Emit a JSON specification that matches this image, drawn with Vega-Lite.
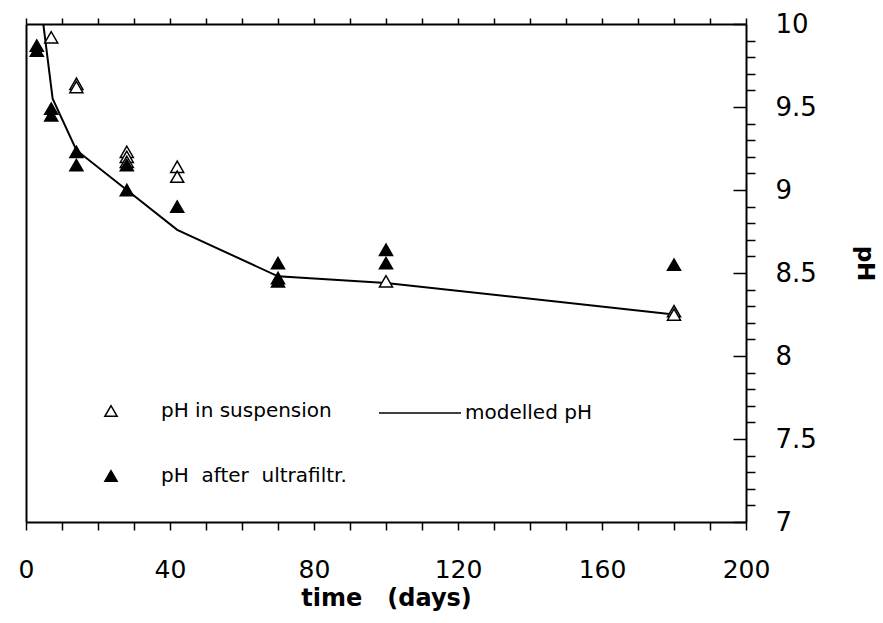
{
  "$schema": "https://vega.github.io/schema/vega-lite/v6.json",
  "autosize": "none",
  "width": 720,
  "height": 498,
  "padding": {"left": 26, "top": 24, "right": 137, "bottom": 101},
  "background": "white",
  "config": {
    "font": "DejaVu Sans",
    "view": {"stroke": null},
    "axis": {"domainColor": "black", "domainWidth": 2, "tickColor": "black", "tickWidth": 1.5, "labelColor": "black", "titleColor": "black", "grid": false, "labelFlush": false, "labelOverlap": false}
  },
  "datasets": {
    "model": [
      {"day": 4.8, "ph": 10.0},
      {"day": 7.4, "ph": 9.55},
      {"day": 14, "ph": 9.24},
      {"day": 28, "ph": 9.0},
      {"day": 42, "ph": 8.76},
      {"day": 70, "ph": 8.48},
      {"day": 100, "ph": 8.44},
      {"day": 180, "ph": 8.25}
    ],
    "obs": [
      {"day": 7, "ph": 9.92, "series": "pH in suspension"},
      {"day": 14, "ph": 9.64, "series": "pH in suspension"},
      {"day": 14, "ph": 9.62, "series": "pH in suspension"},
      {"day": 28, "ph": 9.23, "series": "pH in suspension"},
      {"day": 28, "ph": 9.2, "series": "pH in suspension"},
      {"day": 28, "ph": 9.17, "series": "pH in suspension"},
      {"day": 42, "ph": 9.14, "series": "pH in suspension"},
      {"day": 42, "ph": 9.08, "series": "pH in suspension"},
      {"day": 100, "ph": 8.45, "series": "pH in suspension"},
      {"day": 180, "ph": 8.27, "series": "pH in suspension"},
      {"day": 180, "ph": 8.25, "series": "pH in suspension"},
      {"day": 3, "ph": 9.87, "series": "pH\u00a0\u00a0after\u00a0\u00a0ultrafiltr."},
      {"day": 3, "ph": 9.84, "series": "pH\u00a0\u00a0after\u00a0\u00a0ultrafiltr."},
      {"day": 7, "ph": 9.49, "series": "pH\u00a0\u00a0after\u00a0\u00a0ultrafiltr."},
      {"day": 7, "ph": 9.45, "series": "pH\u00a0\u00a0after\u00a0\u00a0ultrafiltr."},
      {"day": 14, "ph": 9.23, "series": "pH\u00a0\u00a0after\u00a0\u00a0ultrafiltr."},
      {"day": 14, "ph": 9.15, "series": "pH\u00a0\u00a0after\u00a0\u00a0ultrafiltr."},
      {"day": 28, "ph": 9.15, "series": "pH\u00a0\u00a0after\u00a0\u00a0ultrafiltr."},
      {"day": 28, "ph": 9.0, "series": "pH\u00a0\u00a0after\u00a0\u00a0ultrafiltr."},
      {"day": 42, "ph": 8.9, "series": "pH\u00a0\u00a0after\u00a0\u00a0ultrafiltr."},
      {"day": 70, "ph": 8.56, "series": "pH\u00a0\u00a0after\u00a0\u00a0ultrafiltr."},
      {"day": 70, "ph": 8.47, "series": "pH\u00a0\u00a0after\u00a0\u00a0ultrafiltr."},
      {"day": 70, "ph": 8.45, "series": "pH\u00a0\u00a0after\u00a0\u00a0ultrafiltr."},
      {"day": 100, "ph": 8.64, "series": "pH\u00a0\u00a0after\u00a0\u00a0ultrafiltr."},
      {"day": 100, "ph": 8.56, "series": "pH\u00a0\u00a0after\u00a0\u00a0ultrafiltr."},
      {"day": 180, "ph": 8.55, "series": "pH\u00a0\u00a0after\u00a0\u00a0ultrafiltr."}
    ]
  },
  "layer": [
    {
      "data": {"name": "model"},
      "mark": {"type": "line", "strokeWidth": 2, "clip": true},
      "encoding": {
        "x": {
          "field": "day", "type": "quantitative",
          "scale": {"domain": [0, 200], "nice": false},
          "axis": {
            "orient": "bottom",
            "values": [0,10,20,30,40,50,60,70,80,90,100,110,120,130,140,150,160,170,180,190,200],
            "labelExpr": "datum.value % 40 === 0 ? datum.label : ''",
            "tickSize": 8, "labelPadding": 27, "labelFontSize": 25,
            "title": "time\u00a0\u00a0\u00a0(days)", "titleFontSize": 24, "titleFontWeight": "bold", "titlePadding": 4
          }
        },
        "y": {
          "field": "ph", "type": "quantitative",
          "scale": {"domain": [7, 10], "nice": false, "zero": false},
          "axis": {
            "orient": "right",
            "values": [7,7.1,7.2,7.3,7.4,7.5,7.6,7.7,7.8,7.9,8,8.1,8.2,8.3,8.4,8.5,8.6,8.7,8.8,8.9,9,9.1,9.2,9.3,9.4,9.5,9.6,9.7,9.8,9.9,10],
            "labelExpr": "round(datum.value*10) % 5 === 0 ? format(datum.value, '~g') : ''",
            "tickSize": {"condition": {"test": "round(datum.value*10) % 5 === 0", "value": -13}, "value": 9},
            "labelPadding": 42, "labelFontSize": 26, "labelAlign": "left",
            "title": "pH", "titleFontSize": 23, "titleFontWeight": "bold", "titleAngle": 90, "titlePadding": 36, "titleY": 239
          }
        },
        "stroke": {
          "datum": "modelled pH",
          "scale": {"range": ["black"]},
          "legend": {
            "orient": "none", "legendX": 352, "legendY": 347, "title": null, "padding": 0,
            "symbolType": "stroke", "symbolSize": 6724, "symbolStrokeWidth": 1.5, "symbolStrokeColor": "black",
            "labelFontSize": 20, "labelOffset": 3, "labelColor": "black", "labelLimit": 400
          }
        }
      }
    },
    {
      "data": {"name": "obs"},
      "mark": {"type": "point", "shape": "triangle-up", "size": 170, "filled": true, "stroke": "black", "strokeWidth": 1.5, "opacity": 1},
      "encoding": {
        "x": {
          "field": "day", "type": "quantitative",
          "axis": {
            "orient": "top",
            "values": [0,10,20,30,40,50,60,70,80,90,100,110,120,130,140,150,160,170,180,190,200],
            "labels": false, "tickSize": 6, "title": null
          }
        },
        "y": {
          "field": "ph", "type": "quantitative",
          "axis": {"orient": "left", "labels": false, "ticks": false, "title": null}
        },
        "fill": {
          "field": "series", "type": "nominal",
          "scale": {"domain": ["pH in suspension", "pH\u00a0\u00a0after\u00a0\u00a0ultrafiltr."], "range": ["white", "black"]},
          "legend": {
            "orient": "none", "legendX": 75, "legendY": 377, "title": null, "padding": 0,
            "symbolType": "triangle-up", "symbolSize": 150, "symbolStrokeColor": "black", "symbolStrokeWidth": 1.5,
            "labelFontSize": 20, "labelOffset": 40, "rowPadding": 45, "labelColor": "black", "symbolOpacity": 1, "labelLimit": 400
          }
        }
      }
    }
  ],
  "resolve": {"axis": {"x": "independent", "y": "independent"}}
}
